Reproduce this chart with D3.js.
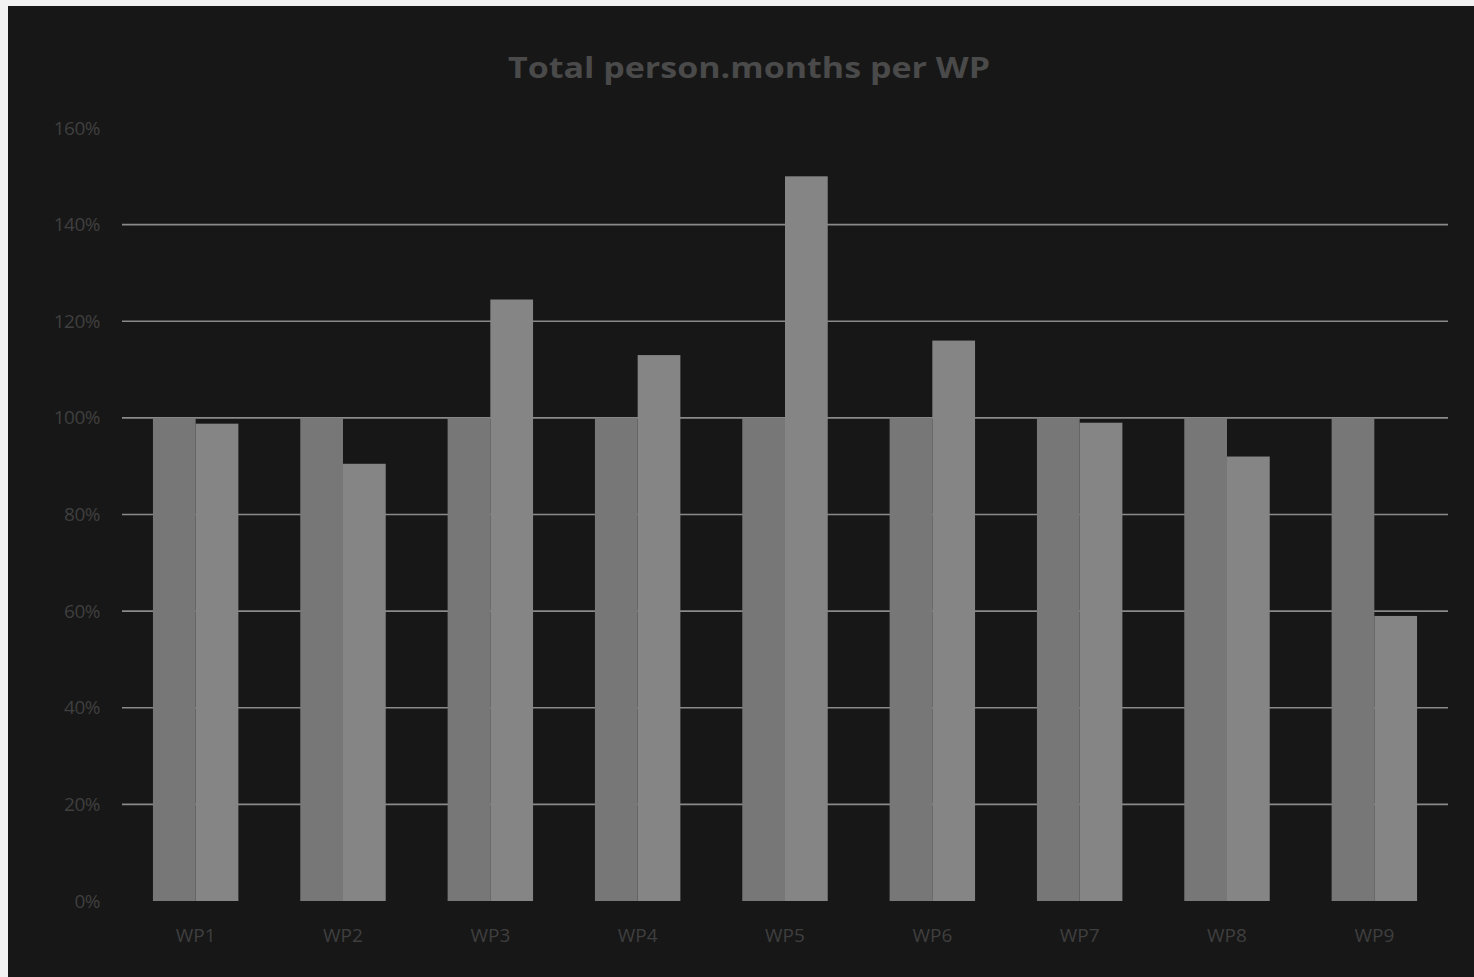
<!DOCTYPE html>
<html><head><meta charset="utf-8">
<script src="https://cdn.jsdelivr.net/npm/d3@7"></script>
<style>html,body{margin:0;padding:0;background:#f2f2f2;overflow:hidden}</style>
</head><body>
<svg id="c" width="1474" height="977"></svg>
<script>
const categories = ["WP1","WP2","WP3","WP4","WP5","WP6","WP7","WP8","WP9"];
const planned = [100,100,100,100,100,100,100,100,100];
const actual = [98.8,90.5,124.5,113,150,116,99,92,59];
const yTicks = [0,20,40,60,80,100,120,140,160];
const title = "Total person.months per WP";

(function(){
const svg = d3.select("#c");
svg.append("rect").attr("x",8).attr("y",6).attr("width",1466).attr("height",971).attr("fill","#171717");

const pL=122, pR=1448, pT=128, pB=901;
const x = d3.scaleBand().domain(categories).range([pL,pR]).paddingInner(0.42).paddingOuter(0.21);
const y = d3.scaleLinear().domain([0,160]).range([pB,pT]);
const xs = d3.scaleBand().domain(["p","a"]).range([0,x.bandwidth()]);

svg.append("g").selectAll("line").data(yTicks.filter(t=>t>0 && t<160)).join("line")
  .attr("x1",pL).attr("x2",pR).attr("y1",d=>y(d)).attr("y2",d=>y(d))
  .attr("stroke","#8a8a8a").attr("stroke-width",1.6);

const ya = svg.append("g").attr("transform",`translate(${pL-22},0)`)
  .call(d3.axisLeft(y).tickValues(yTicks).tickFormat(d=>d+"%").tickSize(0).tickPadding(0));
ya.select(".domain").remove();
ya.selectAll("text").attr("fill","#3f3f3f").attr("font-family","'Open Sans',sans-serif").attr("font-size",19).attr("letter-spacing","-0.5");

const g = svg.append("g").selectAll("g").data(categories).join("g").attr("transform",d=>`translate(${x(d)},0)`);
g.append("rect").attr("x",xs("p")).attr("width",xs.bandwidth()).attr("y",(d,i)=>y(planned[i])).attr("height",(d,i)=>y(0)-y(planned[i])).attr("fill","#777777");
g.append("rect").attr("x",xs("a")).attr("width",xs.bandwidth()).attr("y",(d,i)=>y(actual[i])).attr("height",(d,i)=>y(0)-y(actual[i])).attr("fill","#858585");

const xa = svg.append("g").attr("transform",`translate(0,${pB})`)
  .call(d3.axisBottom(x).tickSize(0).tickPadding(28));
xa.select(".domain").remove();
xa.selectAll("text").attr("fill","#3f3f3f").attr("font-family","'Open Sans',sans-serif").attr("font-size",19);

svg.append("text").attr("x",749).attr("y",78).attr("text-anchor","middle")
  .attr("font-family","'Open Sans',sans-serif").attr("font-weight","bold").attr("font-size",29)
  .attr("fill","#4a4a4a").attr("textLength",482).attr("lengthAdjust","spacingAndGlyphs").text(title);
})();
</script>
</body></html>
